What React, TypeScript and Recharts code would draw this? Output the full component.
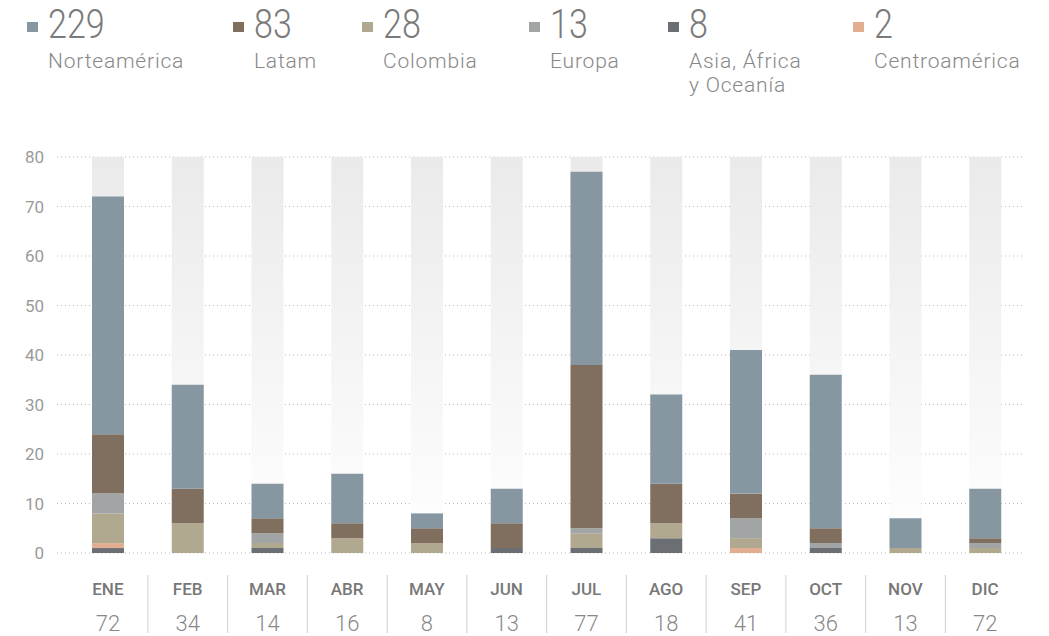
import React from 'react';
import { BarChart, Bar, XAxis, YAxis, CartesianGrid } from 'recharts';

// meses y totales que aparecen bajo cada columna
const months = ['ENE', 'FEB', 'MAR', 'ABR', 'MAY', 'JUN', 'JUL', 'AGO', 'SEP', 'OCT', 'NOV', 'DIC'];
const totalLabels = [72, 34, 14, 16, 8, 13, 77, 18, 41, 36, 13, 72];

// valores por región (apilados de abajo hacia arriba)
const asia = [1, 0, 1, 0, 0, 1, 1, 3, 0, 1, 0, 0];
const centro = [1, 0, 0, 0, 0, 0, 0, 0, 1, 0, 0, 0];
const colombia = [6, 6, 1, 3, 2, 0, 3, 3, 2, 0, 1, 1];
const europa = [4, 0, 2, 0, 0, 0, 1, 0, 4, 1, 0, 1];
const latam = [12, 7, 3, 3, 3, 5, 33, 8, 5, 3, 0, 1];
const norte = [48, 21, 7, 10, 3, 7, 39, 18, 29, 31, 6, 10];

const yMax = 80;
const yTicks = [0, 10, 20, 30, 40, 50, 60, 70, 80];

const series = [
  { key: 'asia', name: 'Asia, África\ny Oceanía', total: 8, color: '#6b6f73' },
  { key: 'centro', name: 'Centroamérica', total: 2, color: '#e2ae92' },
  { key: 'colombia', name: 'Colombia', total: 28, color: '#b0a88f' },
  { key: 'europa', name: 'Europa', total: 13, color: '#a1a5a6' },
  { key: 'latam', name: 'Latam', total: 83, color: '#806f5f' },
  { key: 'norte', name: 'Norteamérica', total: 229, color: '#8697a2' },
];

// orden del encabezado
const legendOrder = ['norte', 'latam', 'colombia', 'europa', 'asia', 'centro'];
const legendX = [27, 233, 362, 529, 668, 853];

const data = months.map((m, i) => ({
  month: m,
  full: yMax,
  asia: asia[i],
  centro: centro[i],
  colombia: colombia[i],
  europa: europa[i],
  latam: latam[i],
  norte: norte[i],
}));

const MonthTick = (props: any) => {
  const { x, y, payload, index } = props;
  return (
    <g>
      <text x={x} y={y + 42} textAnchor="middle" fontSize={17} fontWeight={500} fill="#777">
        {payload.value}
      </text>
      <text x={x} y={y + 78} textAnchor="middle" fontSize={22} fontWeight={300} fill="#888">
        {totalLabels[index]}
      </text>
      {index < months.length - 1 && (
        <line x1={x + 40} x2={x + 40} y1={y + 22} y2={y + 80} stroke="#cfcfcf" strokeWidth={1} />
      )}
    </g>
  );
};

const App: React.FC = () => {
  return (
    <div
      style={{
        position: 'absolute',
        left: 0,
        top: 0,
        width: 1049,
        height: 636,
        background: '#fff',
        fontFamily: 'Roboto, sans-serif',
      }}
    >
      {/* Encabezado */}
      {legendOrder.map((k, i) => {
        const s = series.find(d => d.key === k)!;
        return (
          <div key={k} style={{ position: 'absolute', left: legendX[i], top: 0 }}>
            <div
              style={{ position: 'absolute', left: 0, top: 22, width: 11, height: 10, background: s.color }}
            />
            <div
              style={{
                position: 'absolute',
                left: 21,
                top: 0,
                fontSize: 41,
                fontWeight: 300,
                lineHeight: '48px',
                color: '#7a7a7a',
                whiteSpace: 'nowrap',
                transform: 'scaleX(0.83)',
                transformOrigin: 'left top',
              }}
            >
              {s.total}
            </div>
            <div
              style={{
                position: 'absolute',
                left: 21,
                top: 48.5,
                fontSize: 21,
                fontWeight: 300,
                lineHeight: '24px',
                color: '#888',
                whiteSpace: 'pre',
                letterSpacing: 0.8,
              }}
            >
              {s.name}
            </div>
          </div>
        );
      })}

      <div style={{ position: 'absolute', left: 0, top: 0 }}>
        <BarChart width={1049} height={636} data={data} margin={{ top: 157, right: 24, bottom: 0, left: 0 }}>
          <defs>
            <linearGradient id="colBg" x1="0" y1="0" x2="0" y2="1">
              <stop offset="0%" stopColor="#eaeaea" />
              <stop offset="100%" stopColor="#ffffff" />
            </linearGradient>
          </defs>
          <CartesianGrid vertical={false} stroke="#b8b8b8" strokeDasharray="1 3" />
          <XAxis
            dataKey="month"
            height={83}
            axisLine={false}
            tickLine={false}
            tickSize={0}
            tickMargin={0}
            padding={{ left: 11, right: 0 }}
            tick={<MonthTick />}
            interval={0}
          />
          <XAxis xAxisId="bg" dataKey="month" hide padding={{ left: 11, right: 0 }} />
          <YAxis
            width={57}
            domain={[0, yMax]}
            ticks={yTicks}
            axisLine={false}
            tickLine={false}
            tickMargin={7}
            tick={{ fontSize: 17, fill: '#9a9a9a' }}
          />
          {/* columna gris de fondo */}
          <Bar xAxisId="bg" dataKey="full" fill="url(#colBg)" barSize={32} isAnimationActive={false} />
          {series.map(s => (
            <Bar
              key={s.key}
              dataKey={s.key}
              stackId="a"
              fill={s.color}
              barSize={32}
              isAnimationActive={false}
            />
          ))}
        </BarChart>
      </div>
    </div>
  );
};

export default App;
